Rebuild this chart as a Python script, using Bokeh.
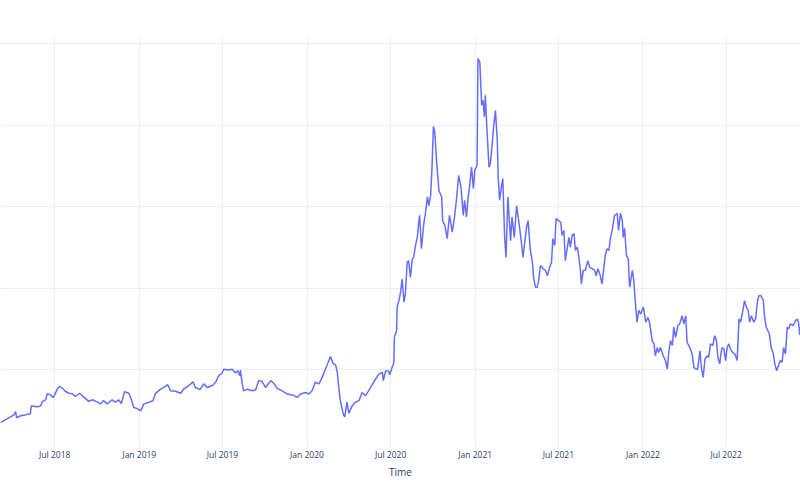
import pandas as pd
from bokeh.plotting import figure
from bokeh.models import (ColumnDataSource, Range1d, MonthsTicker, DatetimeTickFormatter,
                          Grid, FixedTicker, Label)
from bokeh.embed import file_html
from bokeh.resources import INLINE

start_date = "2018-03-05"

day_offsets = [
    0, 7, 15, 22, 29, 33, 35, 44, 54, 65,
    67, 80, 87, 91, 98, 102, 109, 115, 123, 129,
    136, 141, 149, 156, 163, 172, 178, 185, 192, 200,
    210, 218, 224, 232, 243, 250, 257, 263, 270, 279,
    284, 290, 297, 305, 312, 323, 332, 337, 347, 355,
    364, 370, 381, 392, 399, 410, 419, 424, 434, 442,
    450, 461, 468, 475, 482, 486, 497, 504, 511, 516,
    521, 522, 526, 529, 537, 548, 555, 562, 569, 577,
    588, 595, 602, 613, 624, 635, 646, 653, 664, 671,
    678, 685, 693, 700, 707, 712, 718, 724, 729, 733,
    736, 740, 746, 749, 754, 758, 765, 772, 780, 787,
    794, 801, 812, 823, 831, 833, 838, 845, 847, 852,
    856, 857, 862, 863, 867, 870, 874, 878, 881, 885,
    888, 892, 896, 899, 903, 907, 910, 912, 916, 921,
    925, 929, 932, 936, 939, 942, 945, 949, 954, 960,
    962, 967, 972, 977, 983, 988, 992, 997, 1002, 1007,
    1010, 1014, 1018, 1021, 1025, 1029, 1032, 1037, 1039, 1043,
    1047, 1050, 1053, 1055, 1059, 1063, 1066, 1070, 1073, 1077,
    1081, 1083, 1086, 1090, 1093, 1097, 1100, 1104, 1110, 1113,
    1118, 1123, 1128, 1133, 1137, 1140, 1145, 1148, 1153, 1157,
    1160, 1164, 1168, 1171, 1175, 1181, 1186, 1190, 1195, 1199,
    1202, 1206, 1209, 1214, 1219, 1222, 1226, 1229, 1233, 1237,
    1240, 1244, 1248, 1251, 1255, 1258, 1262, 1264, 1268, 1273,
    1278, 1282, 1288, 1293, 1296, 1300, 1304, 1309, 1313, 1316,
    1320, 1324, 1327, 1331, 1336, 1342, 1345, 1349, 1353, 1355,
    1358, 1362, 1366, 1369, 1375, 1378, 1382, 1385, 1389, 1393,
    1399, 1404, 1409, 1413, 1418, 1422, 1425, 1429, 1432, 1436,
    1442, 1447, 1451, 1454, 1458, 1462, 1465, 1469, 1474, 1478,
    1483, 1487, 1491, 1494, 1500, 1505, 1509, 1515, 1517, 1522,
    1525, 1529, 1533, 1538, 1541, 1545, 1550, 1554, 1558, 1561,
    1565, 1567, 1570, 1574, 1578, 1581, 1585, 1588, 1593, 1598,
    1603, 1607, 1610, 1614, 1619, 1623, 1627, 1630, 1634, 1639,
    1643, 1647, 1650, 1655, 1660, 1662, 1666, 1670, 1673, 1677,
    1681, 1685, 1689, 1694, 1697, 1701, 1704, 1708, 1712, 1715,
    1719, 1725, 1730, 1734, 1737, 1739, 1745,
]

values = [
    7.1, 7.6, 8.1, 8.5, 9.0, 9.8, 8.3, 8.8, 9.0, 9.3,
    11.2, 11.0, 11.2, 12.2, 12.7, 14.2, 13.9, 13.2, 15.2, 16.0,
    15.4, 14.8, 14.3, 14.2, 13.5, 14.3, 13.7, 13.0, 12.3, 12.7,
    12.2, 11.7, 12.5, 11.7, 12.7, 12.1, 12.7, 11.8, 14.7, 14.3,
    13.0, 10.8, 10.6, 10.0, 11.7, 12.1, 12.5, 14.2, 15.2, 15.7,
    16.4, 14.9, 14.8, 14.3, 15.4, 16.2, 17.1, 15.7, 15.2, 16.6,
    15.7, 16.2, 17.0, 18.6, 19.2, 20.2, 20.0, 20.2, 19.3, 19.8,
    18.6, 20.0, 16.6, 14.9, 15.3, 14.9, 15.1, 17.4, 17.2, 15.7,
    17.4, 16.7, 15.5, 14.9, 14.1, 13.9, 13.3, 14.1, 14.5, 14.1,
    14.9, 17.0, 16.6, 18.2, 20.2, 21.6, 23.3, 21.5, 21.3, 19.4,
    15.7, 12.1, 9.2, 8.5, 12.1, 9.4, 11.2, 12.1, 12.5, 14.5,
    13.7, 14.9, 17.0, 19.0, 19.4, 17.4, 19.8, 19.7, 18.8, 20.6,
    21.8, 28.0, 29.6, 35.4, 37.0, 38.7, 42.3, 36.6, 38.7, 46.4,
    46.8, 42.7, 47.2, 47.6, 50.5, 52.5, 56.2, 57.9, 49.7, 55.8,
    58.7, 62.4, 60.3, 62.8, 69.7, 79.7, 78.3, 71.0, 64.0, 62.4,
    56.6, 55.4, 52.2, 57.9, 53.8, 57.5, 61.6, 67.7, 64.8, 57.9,
    61.6, 57.5, 62.8, 65.2, 69.7, 64.4, 68.9, 70.1, 96.3, 95.5,
    84.9, 86.1, 82.0, 87.3, 77.9, 69.7, 70.6, 75.5, 79.5, 83.6,
    76.3, 67.3, 61.6, 64.8, 66.9, 52.5, 47.6, 62.4, 51.7, 57.5,
    52.5, 60.3, 56.2, 51.7, 47.6, 50.5, 55.2, 56.6, 49.3, 46.8,
    42.7, 40.3, 40.3, 41.9, 45.6, 44.8, 44.4, 43.1, 45.2, 46.4,
    52.2, 50.5, 57.1, 56.6, 56.2, 53.0, 54.2, 46.8, 49.7, 52.5,
    50.1, 53.0, 53.4, 49.3, 50.1, 48.1, 44.4, 41.1, 44.4, 44.5,
    46.8, 45.2, 44.8, 44.4, 43.1, 44.8, 43.6, 41.1, 45.2, 48.1,
    49.7, 49.3, 52.2, 54.2, 57.9, 58.3, 54.2, 58.4, 56.6, 52.5,
    54.7, 48.1, 47.2, 40.3, 44.4, 41.9, 35.8, 31.7, 34.6, 33.7,
    35.4, 31.7, 32.9, 31.3, 27.2, 26.4, 23.5, 25.5, 24.3, 25.5,
    23.5, 22.3, 20.2, 24.3, 27.2, 26.0, 30.5, 28.0, 30.9, 31.3,
    33.3, 31.3, 33.3, 26.8, 25.5, 23.9, 20.6, 20.2, 20.2, 24.7,
    20.6, 18.2, 22.7, 23.5, 23.1, 26.4, 26.0, 28.4, 27.2, 23.1,
    21.5, 23.5, 25.5, 25.2, 22.3, 25.5, 26.4, 25.2, 24.3, 23.9,
    22.3, 32.5, 31.7, 33.7, 37.0, 35.4, 34.6, 31.7, 33.3, 31.7,
    32.5, 36.6, 38.2, 38.2, 37.0, 33.7, 30.5, 29.6, 28.8, 25.5,
    24.3, 21.5, 19.8, 21.5, 22.3, 21.9, 25.5, 23.9, 30.5, 30.1,
    31.3, 30.9, 32.1, 32.5, 31.3, 28.8, 28.4,
]

y_ticks = [20, 40, 60, 80, 100]
x_title = "Time"
edge_tick_date = "2023-01-01"
edge_tick_text = "Jan 2023"

t0 = pd.Timestamp(start_date)
dates = t0 + pd.to_timedelta(day_offsets, unit="D")
src = ColumnDataSource(dict(date=dates, value=values))

p = figure(width=800, height=500, output_backend="svg", toolbar_location=None,
           x_axis_type="datetime", y_axis_location=None,
           x_range=Range1d(t0, t0 + pd.Timedelta(days=1740.8)),
           y_range=Range1d(1.01, 101.47),
           min_border_left=0, min_border_right=0, min_border_top=37, min_border_bottom=53)
p.outline_line_color = None
p.background_fill_color = "white"
p.border_fill_color = "white"

ticker = MonthsTicker(months=[0, 6])
ax = p.xaxis[0]
ax.ticker = ticker
ax.formatter = DatetimeTickFormatter(months="%b %Y", years="%b %Y", days="%b %Y")
ax.axis_line_color = None
ax.major_tick_line_color = None
ax.minor_tick_line_color = None
ax.major_tick_out = 0
ax.major_tick_in = 0
ax.major_label_standoff = 1
ax.major_label_text_font = "Open Sans"
ax.major_label_text_font_size = "8.5px"
ax.major_label_text_color = "#2a3f5f"
ax.axis_label = x_title
ax.axis_label_text_font = "Open Sans"
ax.axis_label_text_font_size = "10px"
ax.axis_label_text_font_style = "normal"
ax.axis_label_text_color = "#2a3f5f"
ax.axis_label_standoff = 2

p.xgrid.ticker = ticker
p.xgrid.grid_line_color = "#EBF0F8"
p.xgrid.grid_line_width = 1
p.add_layout(Grid(dimension=1, ticker=FixedTicker(ticks=y_ticks),
                  grid_line_color="#EBF0F8", grid_line_width=1))

p.line("date", "value", source=src, line_color="#636efa", line_width=1.5)

# tick label of the next half-year, which falls just past the right edge
edge = Label(x=pd.Timestamp(edge_tick_date), y=-1.2, x_units="data", y_units="data",
             text=edge_tick_text, text_align="center", text_baseline="middle",
             text_font="Open Sans", text_font_size="8.5px", text_color="#2a3f5f")
p.add_layout(edge)

open("out.html", "w").write(file_html(p, INLINE))
